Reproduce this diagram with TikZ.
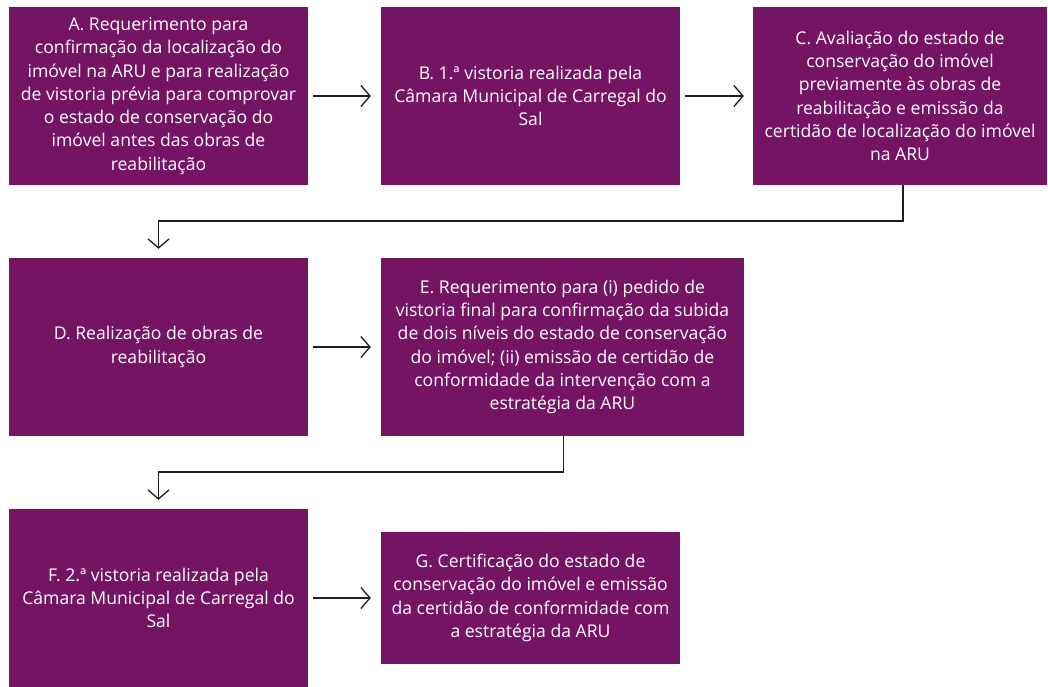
\documentclass[tikz,border=0pt]{standalone}
\usepackage{fontspec}
\setmainfont{Open Sans}
\usetikzlibrary{arrows.meta}
\definecolor{plum}{RGB}{116,20,99}
\definecolor{lin}{RGB}{30,30,30}
\tikzset{
  box/.style={fill=plum, draw=none, text=white, align=center, inner sep=0pt,
    font=\fontsize{17.6}{23.3}\selectfont},
  conn/.style={draw=lin, line width=1.3pt, -{Straight Barb[length=9pt, width=21pt, line width=1.3pt]}},
}
\begin{document}
\begin{tikzpicture}[x=1pt,y=-1pt]
\useasboundingbox (0,0) rectangle (1048,686);
\node[box, minimum width=299pt, minimum height=178pt] (A) at (158.5,96) {A. Requerimento para\\confirmação da localização do\\imóvel na ARU e para realização\\de vistoria prévia para comprovar\\o estado de conservação do\\imóvel antes das obras de\\reabilitação};
\node[box, minimum width=299pt, minimum height=178pt] (B) at (530.5,96) {B. 1.ª vistoria realizada pela\\Câmara Municipal de Carregal do\\Sal};
\node[box, minimum width=294pt, minimum height=178pt] (C) at (900,96) {C. Avaliação do estado de\\conservação do imóvel\\previamente às obras de\\reabilitação e emissão da\\certidão de localização do imóvel\\na ARU};
\node[box, minimum width=299pt, minimum height=178pt] (D) at (158.5,347) {D. Realização de obras de\\reabilitação};
\node[box, minimum width=363pt, minimum height=178pt] (E) at (562.5,347) {E. Requerimento para (i) pedido de\\vistoria final para confirmação da subida\\de dois níveis do estado de conservação\\do imóvel; (ii) emissão de certidão de\\conformidade da intervenção com a\\estratégia da ARU};
\node[box, minimum width=299pt, minimum height=178pt] (F) at (158.5,598) {F. 2.ª vistoria realizada pela\\Câmara Municipal de Carregal do\\Sal};
\node[box, minimum width=299pt, minimum height=132pt] (G) at (530.5,598) {G. Certificação do estado de\\conservação do imóvel e emissão\\da certidão de conformidade com\\a estratégia da ARU};
\coordinate (bend1) at (158.5,221);
\coordinate (bend2) at (158.5,472);
\draw[conn] (A.east) ++(5,0) -- ([xshift=-10pt]B.west);
\draw[conn] (B.east) ++(5,0) -- ([xshift=-9pt]C.west);
\draw[conn] ([xshift=3pt]C.south) |- (bend1) -- ([yshift=9pt]D.north);
\draw[conn] (D.east) ++(5,0) -- ([xshift=-10pt]E.west);
\draw[conn] ([xshift=1pt]E.south) |- (bend2) -- ([yshift=9pt]F.north);
\draw[conn] (F.east) ++(5,0) -- ([xshift=-10pt]G.west);
\end{tikzpicture}
\end{document}
